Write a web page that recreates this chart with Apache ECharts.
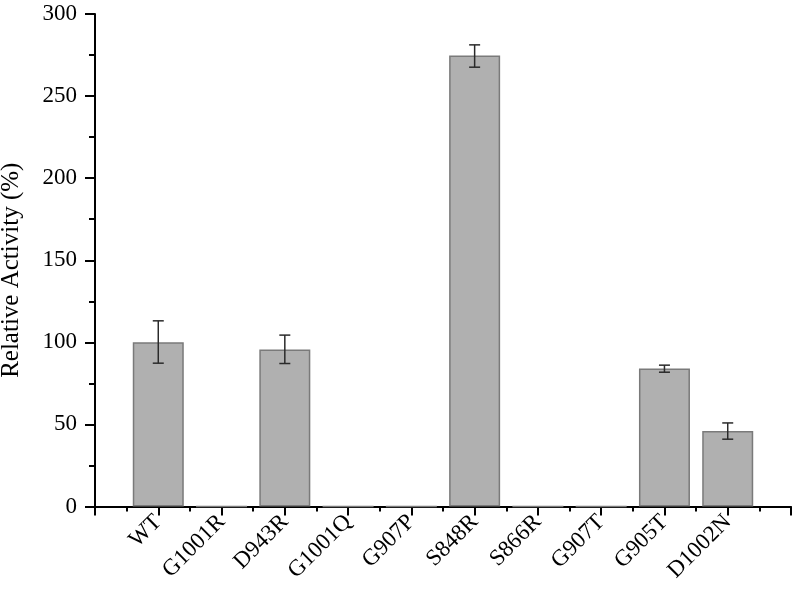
<!DOCTYPE html>
<html>
<head>
<meta charset="utf-8">
<script src="https://cdn.jsdelivr.net/npm/echarts@6/dist/echarts.min.js"></script>
<style>
  html, body { margin: 0; padding: 0; background: #fff; }
  #chart { width: 798px; height: 594px; }
</style>
</head>
<body>
<div id="chart"></div>
<script>
const categories = ['WT', 'G1001R', 'D943R', 'G1001Q', 'G907P', 'S848R', 'S866R', 'G907T', 'G905T', 'D1002N'];
const activity = [100, 0, 95.6, 0, 0, 274.7, 0, 0, 84, 46];
const errLow = [87.3, null, 87.1, null, null, 267.6, null, null, 81.8, 41];
const errHigh = [113.1, null, 104.4, null, null, 281.2, null, null, 86.1, 50.9];
const yTicks = [0, 50, 100, 150, 200, 250, 300];

const font = 'Liberation Serif';

const barData = activity.map((v, i) => [i, v]);
const errData = [];
errLow.forEach((lo, i) => {
  if (lo !== null) errData.push([i, lo, errHigh[i]]);
});

const chart = echarts.init(document.getElementById('chart'));
chart.setOption({
  animation: false,
  grid: { left: 95, right: 7, top: 14, bottom: 87.5, containLabel: false, outerBoundsMode: 'none' },
  xAxis: {
    type: 'value',
    min: -1,
    max: 10,
    interval: 1,
    splitLine: { show: false },
    axisLine: { onZero: false, lineStyle: { color: '#000', width: 2 } },
    axisTick: { inside: false, length: 9, lineStyle: { color: '#000', width: 2 } },
    minorTick: { show: true, splitNumber: 2, length: 5, lineStyle: { color: '#000', width: 2 } },
    axisLabel: {
      rotate: 45,
      margin: 12,
      color: '#000',
      fontFamily: font,
      fontSize: 23,
      showMinLabel: true,
      showMaxLabel: true,
      formatter: (v) => (v >= 0 && v < categories.length ? categories[v] : '')
    }
  },
  yAxis: {
    type: 'value',
    min: yTicks[0],
    max: yTicks[yTicks.length - 1],
    interval: 50,
    name: 'Relative Activity (%)',
    nameLocation: 'middle',
    nameGap: 71,
    nameTextStyle: { color: '#000', fontFamily: font, fontSize: 25, padding: [0, 20, 0, 0] },
    splitLine: { show: false },
    axisLine: { show: true, onZero: false, lineStyle: { color: '#000', width: 2 } },
    axisTick: { show: true, length: 10, lineStyle: { color: '#000', width: 2 } },
    minorTick: { show: true, splitNumber: 2, length: 6, lineStyle: { color: '#000', width: 2 } },
    axisLabel: { margin: 18, color: '#000', fontFamily: font, fontSize: 23 }
  },
  series: [
    {
      type: 'bar',
      barWidth: 51,
      data: barData,
      itemStyle: { color: '#b0b0b0', borderColor: '#7a7a7a', borderWidth: 1.5 },
      z: 1
    },
    {
      type: 'custom',
      data: errData,
      encode: { x: 0, y: [1, 2] },
      z: 3,
      renderItem: (params, api) => {
        const x = api.value(0);
        const lo = api.coord([x, api.value(1)]);
        const hi = api.coord([x, api.value(2)]);
        const half = 5.5;
        const style = { stroke: '#2a2a2a', lineWidth: 1.5 };
        return {
          type: 'group',
          children: [
            { type: 'line', shape: { x1: hi[0], y1: hi[1], x2: lo[0], y2: lo[1] }, style },
            { type: 'line', shape: { x1: hi[0] - half, y1: hi[1], x2: hi[0] + half, y2: hi[1] }, style },
            { type: 'line', shape: { x1: lo[0] - half, y1: lo[1], x2: lo[0] + half, y2: lo[1] }, style }
          ]
        };
      }
    }
  ]
});
</script>
</body>
</html>
